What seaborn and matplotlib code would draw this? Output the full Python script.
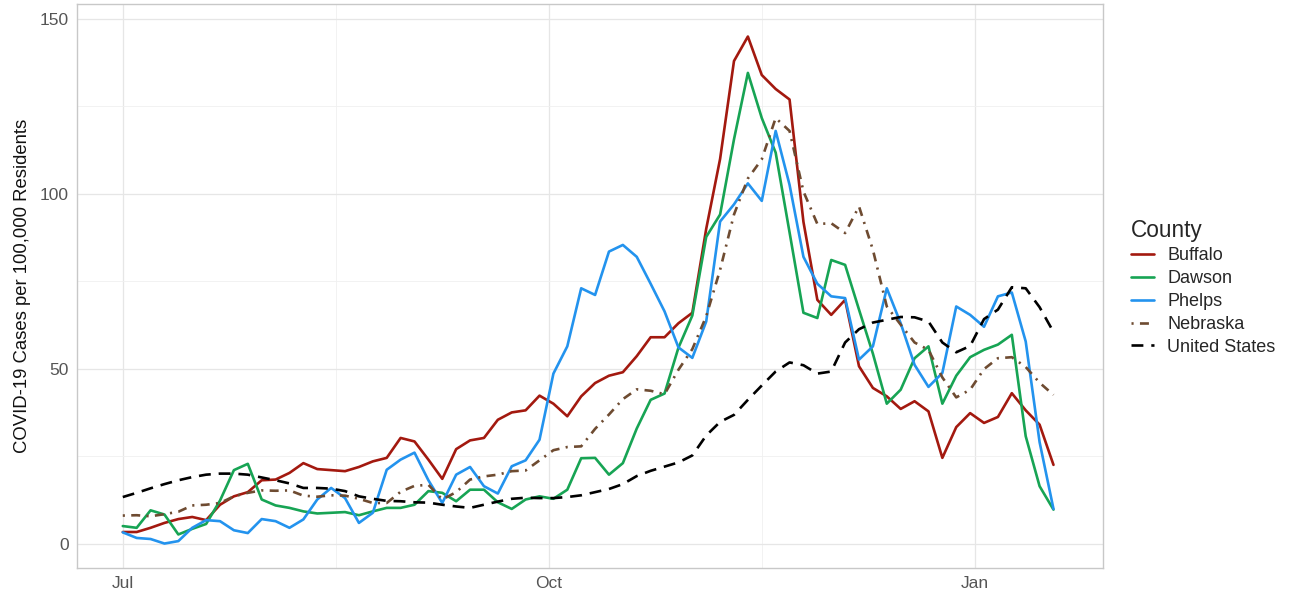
# Cas COVID-19 pour 100 000 habitants : comtés de Buffalo, Dawson, Phelps,
# Nebraska et États-Unis (moyenne glissante), juillet 2020 – janvier 2021
import pandas as pd
import numpy as np
import matplotlib.pyplot as plt
import seaborn as sns

# dates : un point tous les 3 jours depuis le 1er juillet 2020
dates = pd.date_range("2020-07-01", periods=68, freq="3D")

buffalo = [
    3.3, 3.3, 4.5, 5.9, 7.0, 7.6, 6.7, 11.1, 13.5, 14.7, 18.1, 18.3,
    20.2, 23.0, 21.3, 21.0, 20.7, 21.9, 23.5, 24.5, 30.2, 29.2, 24.0, 18.5,
    27.0, 29.5, 30.2, 35.4, 37.5, 38.1, 42.3, 40.0, 36.4, 42.1, 45.9, 48.0,
    49.0, 53.6, 59.0, 59.0, 63.0, 66.0, 90.0, 110.0, 138.0, 145.0, 134.0, 130.0,
    127.0, 92.0, 69.7, 65.4, 69.7, 50.7, 44.5, 42.1, 38.5, 40.7, 37.8, 24.5,
    33.3, 37.3, 34.5, 36.2, 43.0, 38.1, 34.0, 22.5,
]
dawson = [
    5.0, 4.5, 9.5, 8.3, 2.6, 4.2, 5.6, 12.3, 21.0, 22.8, 12.6, 10.9,
    10.2, 9.2, 8.6, 8.8, 9.0, 8.1, 9.2, 10.2, 10.2, 11.1, 15.0, 14.5,
    12.1, 15.4, 15.4, 11.8, 9.9, 12.6, 13.5, 12.8, 15.4, 24.4, 24.5, 19.7,
    23.0, 32.9, 41.1, 42.9, 56.0, 65.2, 87.7, 94.1, 115.6, 134.6, 121.7, 111.8,
    89.0, 66.0, 64.5, 81.1, 79.7, 66.9, 54.3, 40.0, 44.0, 53.0, 56.4, 40.0,
    48.0, 53.3, 55.4, 56.9, 59.7, 30.7, 16.4, 9.7,
]
phelps = [
    3.2, 1.6, 1.3, 0.0, 0.7, 4.5, 6.7, 6.4, 3.8, 3.0, 7.0, 6.4,
    4.5, 6.9, 12.6, 15.9, 13.0, 5.9, 8.8, 21.1, 24.0, 26.0, 18.1, 11.6,
    19.7, 21.9, 16.4, 14.3, 22.1, 23.8, 29.7, 48.6, 56.4, 73.0, 71.1, 83.5,
    85.4, 82.0, 74.3, 66.4, 56.1, 53.1, 63.5, 92.1, 97.0, 103.0, 98.0, 118.0,
    102.6, 82.0, 74.3, 70.7, 70.2, 52.6, 56.4, 73.0, 63.0, 51.1, 44.8, 48.8,
    67.8, 65.4, 62.0, 70.7, 71.8, 57.8, 29.0, 9.9,
]
nebraska = [
    8.0, 8.1, 7.8, 8.4, 9.1, 10.9, 11.1, 11.6, 13.5, 14.5, 15.2, 15.1,
    15.2, 13.7, 13.4, 13.8, 13.7, 12.8, 11.6, 11.6, 14.8, 16.5, 16.8, 12.6,
    14.7, 18.3, 19.2, 19.7, 20.7, 20.9, 23.8, 26.7, 27.6, 27.8, 32.8, 36.9,
    41.3, 44.1, 43.7, 42.7, 49.7, 55.6, 65.0, 78.3, 94.1, 104.4, 109.9, 121.7,
    118.0, 100.7, 91.4, 91.6, 88.8, 96.4, 84.0, 67.8, 62.6, 57.5, 55.4, 47.5,
    41.8, 44.0, 49.9, 53.0, 53.3, 50.5, 46.0, 42.5,
]
etats_unis = [
    13.3, 14.5, 15.8, 17.0, 18.1, 19.0, 19.7, 20.0, 20.0, 19.7, 18.9, 18.1,
    17.2, 15.9, 15.9, 15.7, 15.0, 13.5, 12.8, 12.2, 12.1, 11.8, 11.7, 11.1,
    10.6, 10.2, 11.1, 12.0, 12.8, 13.1, 13.0, 13.0, 13.3, 13.8, 14.7, 15.6,
    17.0, 19.3, 20.8, 22.0, 23.2, 25.2, 30.9, 34.8, 36.8, 41.1, 45.2, 49.2,
    51.8, 51.0, 48.6, 49.2, 57.5, 61.3, 63.2, 64.0, 64.8, 64.7, 63.5, 57.5,
    54.7, 56.5, 64.2, 66.9, 73.3, 73.0, 67.6, 60.5,
]

comtes = ["Buffalo", "Dawson", "Phelps", "Nebraska", "United States"]
couleurs = {
    "Buffalo": "#A3190F",
    "Dawson": "#17A454",
    "Phelps": "#2393EE",
    "Nebraska": "#6E4B31",
    "United States": "#000000",
}
tirets = {
    "Buffalo": "",
    "Dawson": "",
    "Phelps": "",
    "Nebraska": (0.8, 2.4, 3.4, 2.4),
    "United States": (4.5, 3.0),
}

series = [buffalo, dawson, phelps, nebraska, etats_unis]
df = pd.concat(
    [pd.DataFrame({"date": dates, "cas": vals, "County": nom})
     for nom, vals in zip(comtes, series)],
    ignore_index=True,
)

sns.set_style("white")
plt.rcParams["font.family"] = ["Liberation Sans", "DejaVu Sans"]

fig = plt.figure(figsize=(12.91, 5.92), dpi=100)
ax = fig.add_axes([0.0596, 0.0405, 0.7948, 0.9527])

sns.lineplot(data=df, x="date", y="cas", hue="County", style="County",
             hue_order=comtes, style_order=comtes, palette=couleurs,
             dashes=tirets, linewidth=1.9, ax=ax)

# axes et grille façon ggplot theme_light
debut = pd.Timestamp("2020-07-01")
ax.set_xlim(debut - pd.Timedelta(days=9.9), debut + pd.Timedelta(days=211.7))
ax.set_ylim(-7.0, 154.3)
ax.set_xticks([pd.Timestamp("2020-07-01"), pd.Timestamp("2020-10-01"),
               pd.Timestamp("2021-01-01")])
ax.set_xticklabels(["Jul", "Oct", "Jan"])
ax.set_xticks([pd.Timestamp("2020-08-16"), pd.Timestamp("2020-11-16")], minor=True)
ax.set_yticks([0, 50, 100, 150])
ax.set_yticks([25, 75, 125], minor=True)

ax.grid(which="major", color="#E6E6E6", linewidth=0.9)
ax.grid(which="minor", color="#F0F0F0", linewidth=0.6)
ax.set_axisbelow(True)
for sp in ax.spines.values():
    sp.set_color("#C8C8C8")
    sp.set_linewidth(1.0)

ax.tick_params(axis="both", which="major", length=3, color="#D0D0D0",
               labelsize=12.5, labelcolor="#555555", pad=3)
ax.tick_params(axis="both", which="minor", length=0)
ax.set_xlabel("")
ax.set_ylabel("COVID-19 Cases per 100,000 Residents", fontsize=13.3,
              color="#111111", labelpad=6)

handles, labels = ax.get_legend_handles_labels()
leg = ax.legend(handles, labels, title="County", loc="upper left",
                bbox_to_anchor=(0.8635, 0.658), bbox_transform=fig.transFigure,
                frameon=False, fontsize=13.0, title_fontsize=16.3,
                handlelength=1.25, handletextpad=0.75, labelspacing=0.32)
leg._legend_box.align = "left"

plt.savefig("out.png", dpi=100)
plt.close()
